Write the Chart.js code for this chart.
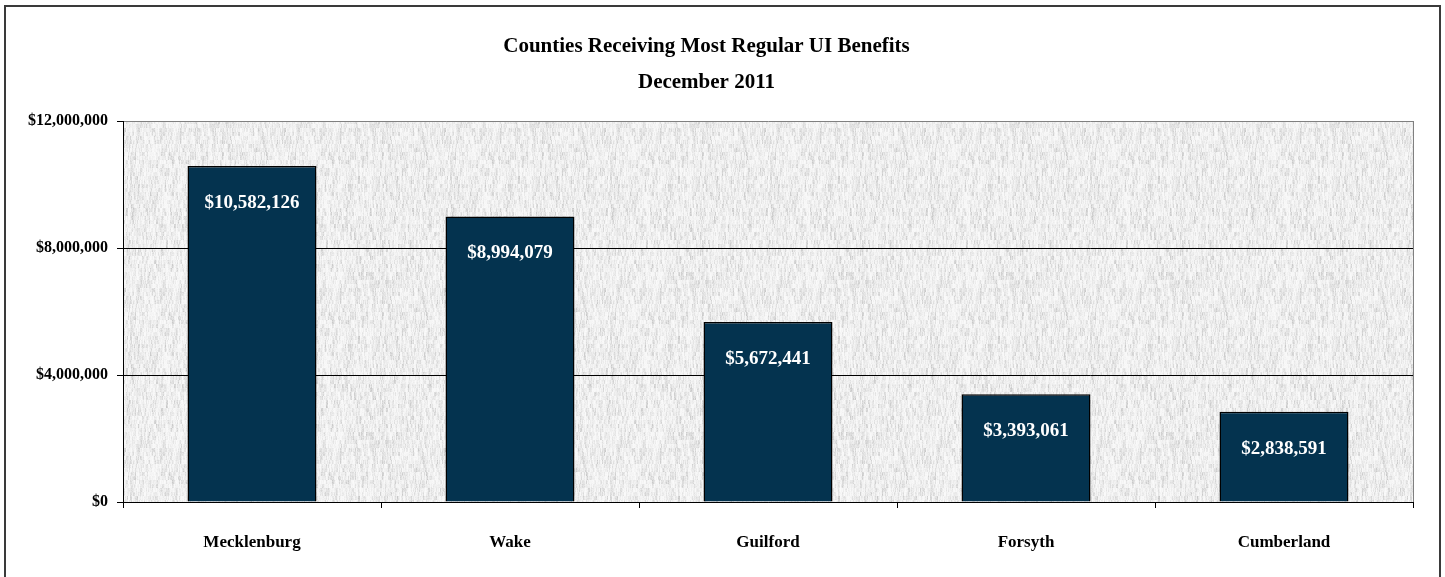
<!DOCTYPE html>
<html>
<head>
<meta charset="utf-8">
<script src="https://cdn.jsdelivr.net/npm/chart.js@4"></script>
<style>
  html, body { margin: 0; padding: 0; background: #fff; }
  #wrap { width: 1445px; height: 577px; }
</style>
</head>
<body>
<div id="wrap"><canvas id="chart" width="1445" height="577"></canvas></div>
<script>
const counties = ['Mecklenburg', 'Wake', 'Guilford', 'Forsyth', 'Cumberland'];
const benefits = [10582126, 8994079, 5672441, 3393061, 2838591];
const yTicks = [0, 4000000, 8000000, 12000000];
const titleLines = ['Counties Receiving Most Regular UI Benefits', 'December 2011'];

const SERIF = '"Liberation Serif", "Times New Roman", serif';
const money = v => '$' + Number(v).toLocaleString('en-US');

// light grey paper texture, deterministic hash noise with vertical streaks
function makeTexture() {
    const size = 160;
    const c = document.createElement('canvas');
    c.width = size; c.height = size;
    const g = c.getContext('2d');
    const img = g.createImageData(size, size);
    const hash = (x, y) => {
        let h = (x * 374761393 + y * 668265263) | 0;
        h = (h ^ (h >>> 13)) * 1274126177 | 0;
        return ((h ^ (h >>> 16)) >>> 0) / 4294967295;
    };
    for (let y = 0; y < size; y++) {
        for (let x = 0; x < size; x++) {
            const n = hash(x, y >> 2) * 0.45 + hash(x >> 1, y >> 3) * 0.35 + hash(x + 7, y) * 0.2;
            const v = Math.round(250 - Math.pow(n, 2.2) * 55);
            const i = (y * size + x) * 4;
            img.data[i] = v; img.data[i + 1] = v; img.data[i + 2] = v; img.data[i + 3] = 255;
        }
    }
    g.putImageData(img, 0, 0);
    return c;
}
const texture = makeTexture();

const framePlugin = {
    id: 'frame',
    beforeDraw(chart) {
        const { ctx, chartArea: a } = chart;
        ctx.save();
        ctx.fillStyle = '#fff';
        ctx.fillRect(0, 0, chart.width, chart.height);
        ctx.fillStyle = ctx.createPattern(texture, 'repeat');
        ctx.fillRect(a.left, a.top, a.right - a.left, a.bottom - a.top);
        ctx.strokeStyle = '#3a3a3a';
        ctx.lineWidth = 2;
        ctx.strokeRect(5, 6, 1435, 590);
        ctx.restore();
    },
    beforeDatasetsDraw(chart) {
        const { ctx, chartArea: a } = chart;
        ctx.save();
        ctx.strokeStyle = '#808080';
        ctx.lineWidth = 1;
        ctx.beginPath();
        ctx.moveTo(a.right + 0.5, a.top);
        ctx.lineTo(a.right + 0.5, a.bottom);
        ctx.stroke();
        ctx.restore();
    }
};

const valueLabels = {
    id: 'valueLabels',
    afterDatasetsDraw(chart) {
        const { ctx } = chart;
        const meta = chart.getDatasetMeta(0);
        ctx.save();
        ctx.fillStyle = '#fff';
        ctx.font = 'bold 19px ' + SERIF;
        ctx.textAlign = 'center';
        ctx.textBaseline = 'middle';
        meta.data.forEach((bar, i) => {
            ctx.fillText(money(benefits[i]), bar.x, bar.y + 37);
        });
        ctx.restore();
    }
};

new Chart(document.getElementById('chart'), {
    type: 'bar',
    data: {
        labels: counties,
        datasets: [{
            data: benefits,
            backgroundColor: '#04334f',
            borderColor: '#000',
            borderWidth: 1.5,
            categoryPercentage: 0.5,
            barPercentage: 1
        }]
    },
    options: {
        responsive: false,
        animation: false,
        layout: { padding: { left: 0, right: 32, top: 0, bottom: 0 } },
        plugins: {
            legend: { display: false },
            tooltip: { enabled: false },
            title: {
                display: true,
                text: titleLines,
                color: '#000',
                font: { family: SERIF, size: 21, weight: 'bold', lineHeight: '36px' },
                padding: { top: 29, bottom: 20 }
            }
        },
        scales: {
            y: {
                min: 0,
                max: 12000000,
                afterBuildTicks: s => { s.ticks = yTicks.map(v => ({ value: v })); },
                afterFit: s => { s.width = 123; },
                border: { color: '#000', width: 1 },
                grid: {
                    color: c => c.tick && c.tick.value === 12000000 ? '#808080' : '#000',
                    lineWidth: 1,
                    tickLength: 6,
                    tickColor: '#000'
                },
                ticks: {
                    color: '#000',
                    padding: 9,
                    font: { family: SERIF, size: 16, weight: 'bold' },
                    callback: v => money(v)
                }
            },
            x: {
                afterFit: s => { s.height = 75; },
                border: { color: '#000', width: 1 },
                grid: {
                    offset: true,
                    drawOnChartArea: false,
                    tickLength: 6,
                    color: '#000'
                },
                ticks: {
                    color: '#000',
                    padding: 24,
                    font: { family: SERIF, size: 17, weight: 'bold' }
                }
            }
        }
    },
    plugins: [framePlugin, valueLabels]
});
</script>
</body>
</html>
